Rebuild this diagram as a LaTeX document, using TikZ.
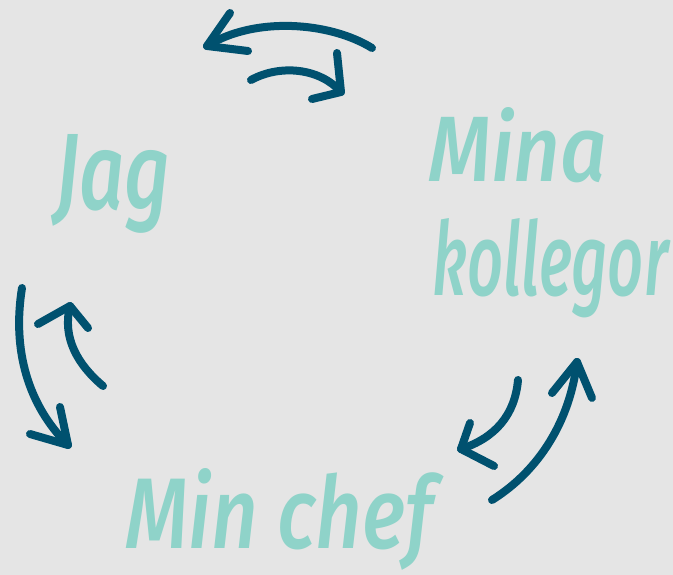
\documentclass[tikz,border=0pt]{standalone}
\usepackage{fontspec}
\newfontfamily\hand{Fira Sans Medium Italic}
\usepackage{graphicx}
\definecolor{bg}{HTML}{E5E5E5}
\definecolor{teal}{HTML}{8FD3C9}
\definecolor{navy}{HTML}{00516F}
\begin{document}
\begin{tikzpicture}[x=1pt,y=-1pt,
  lbl/.style={text=teal,inner sep=0pt,anchor=base west,font=\hand},
  arr/.style={draw=navy,line width=8pt,line cap=round,line join=round}]
\fill[bg] (0,0) rectangle (673,575);
\useasboundingbox (0,0) rectangle (673,575);
% labels
\node[lbl] (jag) at (55,210) {\resizebox{115pt}{75pt}{Jag}};
\node[lbl] (mina) at (428,182) {\resizebox{179pt}{74pt}{Mina}};
\node[lbl] (koll) at (432,295) {\resizebox{236pt}{77pt}{kollegor}};
\node[lbl] (chef) at (125,548) {\resizebox{308pt}{80pt}{Min chef}};
% top arrows
\draw[arr] (372,48) .. controls (330,22) and (255,16) .. (207,46);
\draw[arr] (230,13) -- (207,46) -- (248,51);
\draw[arr] (251,80) .. controls (280,64) and (320,68) .. (341,92);
\draw[arr] (337,53) -- (341,92) -- (312,99);
% left arrows
\draw[arr] (22,288) .. controls (12,350) and (28,405) .. (68,445);
\draw[arr] (60,407) -- (68,445) -- (30,434);
\draw[arr] (103,386) .. controls (78,365) and (62,338) .. (70,306);
\draw[arr] (38,324) -- (70,306) -- (88,328);
% right arrows
\draw[arr] (518,380) .. controls (515,415) and (495,438) .. (461,449);
\draw[arr] (470,423) -- (461,449) -- (494,466);
\draw[arr] (492,500) .. controls (540,470) and (570,420) .. (577,362);
\draw[arr] (552,393) -- (577,362) -- (592,398);
\end{tikzpicture}
\end{document}
